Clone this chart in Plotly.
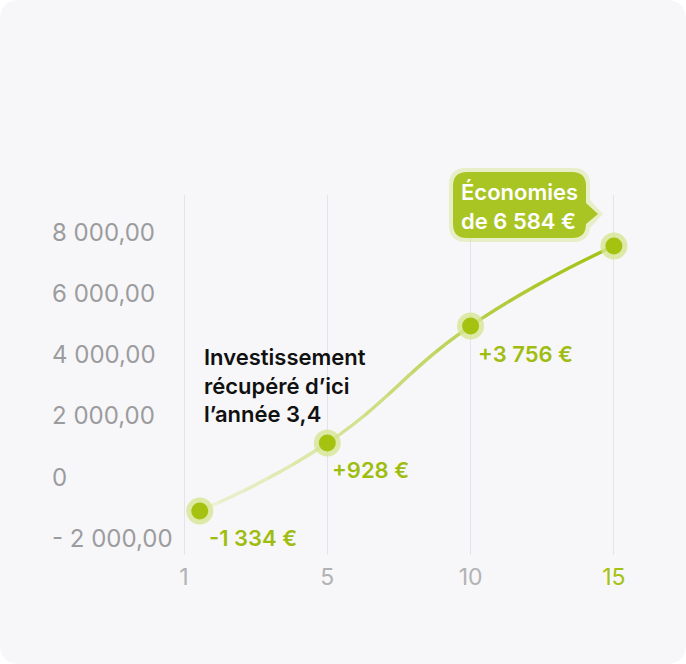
import plotly.graph_objects as go
import numpy as np

# ---------------- data ----------------
years = ["1", "5", "10", "15"]
point_pos = [0.11, 1, 2, 3]              # position of each point along the year axis (category index)
net_values = [-1110, 1110, 4935, 7550]   # plotted cumulative values
value_labels = ["-1 334 €", "+928 €", "+3 756 €"]
ytick_vals = [8000, 6000, 4000, 2000, 0, -2000]
ytick_text = ["8 000,00", "6 000,00", "4 000,00", "2 000,00", "0", "- 2 000,00"]
note_lines = ["Investissement", "récupéré d’ici", "l’année 3,4"]
callout_lines = ["Économies", "de 6 584 €"]

# ---------------- layout constants ----------------
W, H = 686, 664
FONT = "Inter"
GREEN = "#a4c20f"
X0PX, XS = 184.0, 143.3          # pixel of category 0, pixels per category
XL, XR = 98, 671                 # plot area pixel span
Y0PX, YS = 477.0, 0.0306         # pixel of value 0, pixels per unit
YT, YB = 195, 555                # plot area pixel span (top/bottom)


def xr(px):
    return (px - X0PX) / XS


def yr(py):
    return (Y0PX - py) / YS


def PX(px):
    return px / W


def PY(py):
    return 1 - py / H


x_range = [xr(XL), xr(XR)]
y_range = [yr(YB), yr(YT)]
y_dom = [PY(YB), PY(YT)]

fig = go.Figure()

# -------- gradient line: same spline, clipped into vertical bands --------
stops_px = [200, 330, 470, 560, 620]
stops_col = [(238, 243, 214), (216, 230, 158), (184, 209, 78), (168, 198, 34), (164, 194, 20)]
edges = [XL] + list(range(196, 628, 24)) + [XR]


def col_at(px):
    r = np.interp(px, stops_px, [c[0] for c in stops_col])
    g = np.interp(px, stops_px, [c[1] for c in stops_col])
    b = np.interp(px, stops_px, [c[2] for c in stops_col])
    return f"rgb({int(r)},{int(g)},{int(b)})"


axis_defs = {}
n_band = len(edges) - 1
for k in range(n_band):
    a, b = edges[k], edges[k + 1]
    name = f"x{k + 2}"
    axis_defs[f"xaxis{k + 2}"] = dict(domain=[PX(a), PX(b)], range=[xr(a), xr(b)],
                                      anchor="y", visible=False, automargin=False,
                                      fixedrange=True)
    fig.add_trace(go.Scatter(x=point_pos, y=net_values, mode="lines",
                             line=dict(color=col_at((a + b) / 2), width=3.4,
                                       shape="spline", smoothing=1.3),
                             xaxis=name, yaxis="y", hoverinfo="skip", showlegend=False))

# -------- markers on a top-most axis identical to the main one --------
mk = n_band + 2
axis_defs[f"xaxis{mk}"] = dict(domain=[PX(XL), PX(XR)], range=x_range, anchor="y",
                               visible=False, automargin=False, fixedrange=True)
fig.add_trace(go.Scatter(x=point_pos, y=net_values, mode="markers",
                         marker=dict(size=27, color="rgba(214,229,146,0.8)"),
                         xaxis=f"x{mk}", yaxis="y",
                         cliponaxis=False, hoverinfo="skip", showlegend=False))
fig.add_trace(go.Scatter(x=point_pos, y=net_values, mode="markers",
                         marker=dict(size=17, color=GREEN),
                         xaxis=f"x{mk}", yaxis="y",
                         cliponaxis=False, hoverinfo="skip", showlegend=False))

# -------- shapes: card and callout --------
def rrect(x0, y0, x1, y1, r):
    return (f"M {PX(x0 + r)},{PY(y0)} L {PX(x1 - r)},{PY(y0)} Q {PX(x1)},{PY(y0)} {PX(x1)},{PY(y0 + r)} "
            f"L {PX(x1)},{PY(y1 - r)} Q {PX(x1)},{PY(y1)} {PX(x1 - r)},{PY(y1)} "
            f"L {PX(x0 + r)},{PY(y1)} Q {PX(x0)},{PY(y1)} {PX(x0)},{PY(y1 - r)} "
            f"L {PX(x0)},{PY(y0 + r)} Q {PX(x0)},{PY(y0)} {PX(x0 + r)},{PY(y0)} Z")


def callout(x0, y0, x1, y1, r, ty0, ty1, tipx, tipy):
    return (f"M {PX(x0 + r)},{PY(y0)} L {PX(x1 - r)},{PY(y0)} Q {PX(x1)},{PY(y0)} {PX(x1)},{PY(y0 + r)} "
            f"L {PX(x1)},{PY(ty0)} L {PX(tipx)},{PY(tipy)} L {PX(x1)},{PY(ty1)} "
            f"L {PX(x1)},{PY(y1 - r)} Q {PX(x1)},{PY(y1)} {PX(x1 - r)},{PY(y1)} "
            f"L {PX(x0 + r)},{PY(y1)} Q {PX(x0)},{PY(y1)} {PX(x0)},{PY(y1 - r)} "
            f"L {PX(x0)},{PY(y0 + r)} Q {PX(x0)},{PY(y0)} {PX(x0 + r)},{PY(y0)} Z")


shapes = [
    dict(type="path", xref="paper", yref="paper", path=rrect(0, 0, W, H, 20),
         fillcolor="#f7f7f9", line=dict(width=0), layer="below"),
    dict(type="path", xref="paper", yref="paper",
         path=callout(449, 168, 590, 242, 17, 200, 228, 603, 214),
         fillcolor="rgba(200,222,110,0.35)", line=dict(width=0), layer="above"),
    dict(type="path", xref="paper", yref="paper",
         path=callout(453, 172, 586, 238, 14, 203, 224, 598, 214),
         fillcolor="#a9c523", line=dict(width=0), layer="above"),
]

# -------- annotations --------
ann = []
for v, t in zip(ytick_vals, ytick_text):
    ann.append(dict(x=PX(50), xref="paper", y=v, yref="y", text=t, showarrow=False,
                    xanchor="left", yanchor="middle",
                    font=dict(family=FONT, size=24, color="#9c9c9f")))

label_shift = [(7, -27), (3, -27), (5, -28)]
for (p, v, t, (dx, dy)) in zip(point_pos, net_values, value_labels, label_shift):
    ann.append(dict(x=p, y=v, xref="x", yref="y", text=t, showarrow=False,
                    xanchor="left", yanchor="middle", xshift=dx, yshift=dy,
                    font=dict(family=FONT, size=22, color="#9fbd10", weight=600)))

ann.append(dict(x=PX(202), y=PY(342), xref="paper", yref="paper", text="<br>".join(note_lines),
                showarrow=False, xanchor="left", yanchor="top", align="left",
                font=dict(family=FONT, size=22, color="#111111", weight=600)))

ann.append(dict(x=PX(519), y=PY(206), xref="paper", yref="paper", text="<br>".join(callout_lines),
                showarrow=False, xanchor="center", yanchor="middle", align="left",
                font=dict(family=FONT, size=22, color="#ffffff", weight=600)))

ticktext = [f"<span style='color:{GREEN}'>{y}</span>" if i == len(years) - 1 else y
            for i, y in enumerate(years)]

fig.update_layout(
    width=W, height=H, margin=dict(l=0, r=0, t=0, b=0, pad=0),
    paper_bgcolor="#ffffff", plot_bgcolor="rgba(0,0,0,0)",
    template="none", showlegend=False,
    xaxis=dict(domain=[PX(XL), PX(XR)], range=x_range, anchor="y",
               tickmode="array", tickvals=list(range(len(years))), ticktext=ticktext,
               showgrid=True, gridcolor="#e4e4e8", gridwidth=1, zeroline=False,
               showline=False, ticks="", ticklabelstandoff=6,
               tickfont=dict(family=FONT, size=23, color="#b2b2b5"),
               automargin=False, fixedrange=True),
    yaxis=dict(domain=y_dom, range=y_range, anchor="x", showgrid=False, zeroline=False,
               showticklabels=False, showline=False, ticks="", automargin=False, fixedrange=True),
    shapes=shapes, annotations=ann,
    **axis_defs,
)

fig.write_html("out.html")
